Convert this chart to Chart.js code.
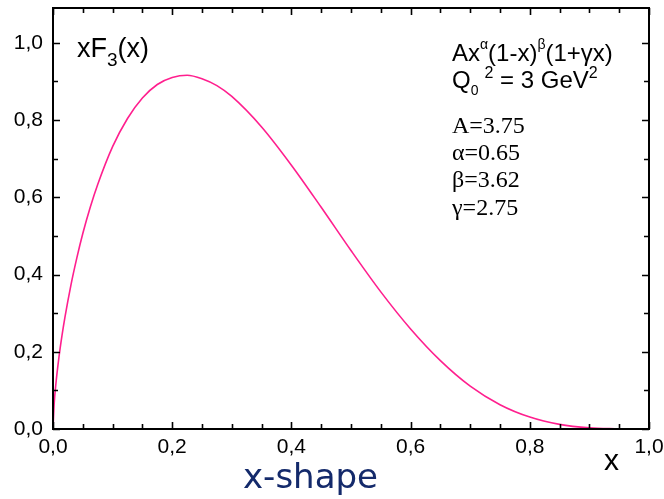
<!DOCTYPE html>
<html>
<head>
<meta charset="utf-8">
<script src="https://cdn.jsdelivr.net/npm/chart.js@4/dist/chart.umd.min.js"></script>
<style>
    html, body { margin: 0; padding: 0; background: #fff; }
    #wrap { width: 664px; height: 499px; }
</style>
</head>
<body>
<div id="wrap"><canvas id="xf3Chart" width="664" height="499"></canvas></div>
<script>
// values
var xValues = [0, 0.002, 0.005, 0.01, 0.015, 0.02, 0.03, 0.04, 0.05, 0.0625, 0.075, 0.1, 0.125, 0.15,
    0.175, 0.2, 0.225, 0.25, 0.275, 0.3, 0.35, 0.4, 0.45, 0.5, 0.55, 0.6, 0.65, 0.7, 0.75, 0.8, 0.85, 0.9, 0.95];
var xf3Values = [0, 0.066, 0.119, 0.186, 0.241, 0.289, 0.372, 0.443, 0.506, 0.574, 0.633, 0.731, 0.804, 0.857,
    0.892, 0.910, 0.916, 0.907, 0.889, 0.861, 0.782, 0.683, 0.574, 0.462, 0.355, 0.259, 0.177, 0.111, 0.063,
    0.031, 0.012, 0.003, 0.0003];
var xTickLabels = ['0,0', '0,2', '0,4', '0,6', '0,8', '1,0'];
var yTickLabels = ['0,0', '0,2', '0,4', '0,6', '0,8', '1,0'];
var paramLabels = ['A=3.75', '\u03b1=0.65', '\u03b2=3.62', '\u03b3=2.75'];

var SANS = '"Liberation Sans", Arial, sans-serif';
var SERIF = '"Liberation Serif", "Times New Roman", serif';

function drawRuns(ctx, x, y, runs) {
    runs.forEach(function (r) {
        ctx.font = r.size + 'px ' + (r.family || SANS);
        ctx.fillText(r.t, x + (r.dx || 0), y + (r.dy || 0));
        x += (r.dx || 0) + ctx.measureText(r.t).width;
    });
}

var framePlugin = {
    id: 'frame',
    afterDraw: function (chart) {
        var ctx = chart.ctx;
        var area = chart.chartArea;
        var xs = chart.scales.x;
        var ys = chart.scales.y;
        ctx.save();
        ctx.strokeStyle = '#000';
        ctx.fillStyle = '#000';
        ctx.lineWidth = 2;
        ctx.strokeRect(area.left, area.top, area.right - area.left, area.bottom - area.top);

        // inward ticks on all four sides
        ctx.lineWidth = 1.6;
        ctx.beginPath();
        xs.ticks.forEach(function (t) {
            var major = Math.round(t.value * 100) % 20 === 0;
            var len = major ? 7 : 5;
            var px = Math.round(xs.getPixelForValue(t.value)) + 0.5;
            ctx.moveTo(px, area.bottom); ctx.lineTo(px, area.bottom - len);
            ctx.moveTo(px, area.top); ctx.lineTo(px, area.top + len);
        });
        ys.ticks.forEach(function (t) {
            if (t.value > 1.0001) return;
            var major = Math.round(t.value * 10) % 2 === 0;
            var len = major ? 7 : 5;
            var py = Math.round(ys.getPixelForValue(t.value)) + 0.5;
            ctx.moveTo(area.left, py); ctx.lineTo(area.left + len, py);
            ctx.moveTo(area.right, py); ctx.lineTo(area.right - len, py);
        });
        ctx.stroke();

        // tick labels
        ctx.font = '21px ' + SANS;
        ctx.textBaseline = 'middle';
        ctx.textAlign = 'center';
        xTickLabels.forEach(function (lab, i) {
            ctx.fillText(lab, xs.getPixelForValue(i * 0.2), area.bottom + 18);
        });
        ctx.textAlign = 'right';
        yTickLabels.forEach(function (lab, i) {
            ctx.fillText(lab, area.left - 10, ys.getPixelForValue(i * 0.2));
        });

        // axis titles
        ctx.textAlign = 'left';
        ctx.textBaseline = 'alphabetic';
        ctx.font = '30px ' + SANS;
        ctx.fillText('x', 604, 470);
        drawRuns(ctx, 77, 57, [
            { t: 'xF', size: 27 },
            { t: '3', size: 19, dy: 9 },
            { t: '(x)', size: 27 }
        ]);

        // formula block
        drawRuns(ctx, 452, 61, [
            { t: 'Ax', size: 24 },
            { t: '\u03b1', size: 14, dy: -12 },
            { t: '(1-x)', size: 24 },
            { t: '\u03b2', size: 14, dy: -12 },
            { t: '(1+\u03b3x)', size: 24 }
        ]);
        drawRuns(ctx, 452, 88, [
            { t: 'Q', size: 24 },
            { t: '0', size: 14, dy: 7 },
            { t: '2', size: 16, dx: 6, dy: -10 },
            { t: ' = 3 GeV', size: 24 },
            { t: '2', size: 16, dy: -10 }
        ]);
        ctx.font = '24px ' + SERIF;
        var rows = [133, 160, 187, 215];
        paramLabels.forEach(function (lab, i) {
            ctx.fillText(lab, 452, rows[i]);
        });

        // caption
        ctx.fillStyle = '#142a6b';
        ctx.font = '34px "Comic Sans MS", "DejaVu Sans", sans-serif';
        ctx.fillText('x-shape', 243, 488);
        ctx.restore();
    }
};

var points = xValues.map(function (v, i) { return { x: v, y: xf3Values[i] }; });

new Chart(document.getElementById('xf3Chart'), {
    type: 'line',
    data: {
        datasets: [{
            data: points,
            borderColor: '#ff1f8e',
            borderWidth: 1.6,
            pointRadius: 0,
            fill: false,
            cubicInterpolationMode: 'monotone'
        }]
    },
    options: {
        responsive: false,
        animation: false,
        layout: { padding: { top: 8, right: 15, left: 0, bottom: 0 } },
        plugins: { legend: { display: false }, tooltip: { enabled: false } },
        scales: {
            x: {
                type: 'linear',
                min: 0,
                max: 1,
                ticks: { stepSize: 0.05, display: false },
                grid: { display: false },
                border: { display: false },
                afterFit: function (s) { s.height = 70; }
            },
            y: {
                min: 0,
                max: 1.09,
                ticks: { stepSize: 0.1, display: false },
                grid: { display: false },
                border: { display: false },
                afterFit: function (s) { s.width = 53; }
            }
        }
    },
    plugins: [framePlugin]
});
</script>
</body>
</html>
